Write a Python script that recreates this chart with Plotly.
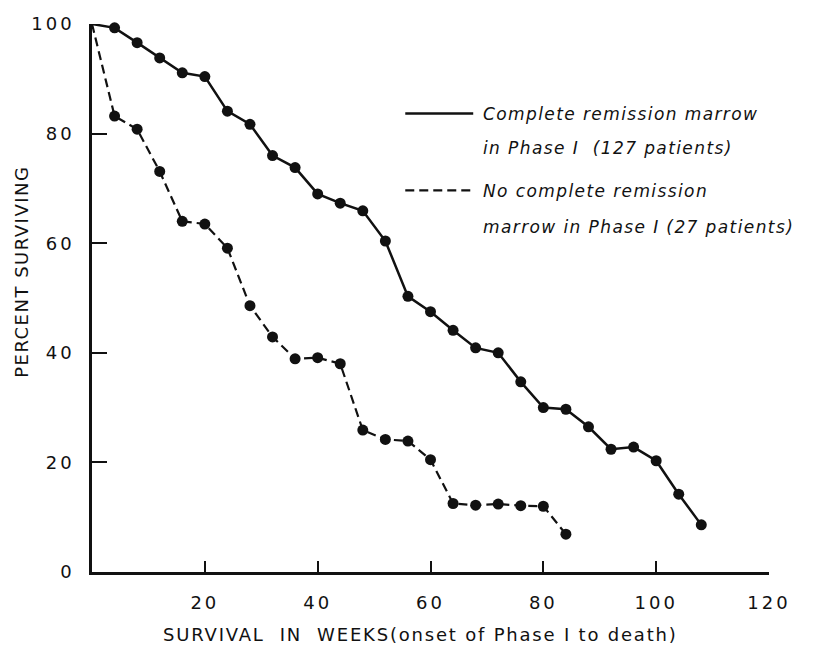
import plotly.graph_objects as go

weeks_cr = [0, 4, 8, 12, 16, 20, 24, 28, 32, 36, 40, 44, 48, 52, 56, 60, 64, 68,
            72, 76, 80, 84, 88, 92, 96, 100, 104, 108]
pct_cr = [100, 99.3, 96.6, 93.8, 91.1, 90.4, 84.1, 81.7, 76.0, 73.8, 69.0, 67.3,
          65.9, 60.4, 50.3, 47.5, 44.1, 40.9, 40.0, 34.7, 30.0, 29.7, 26.5, 22.4,
          22.8, 20.3, 14.2, 8.6]

weeks_ncr = [0, 4, 8, 12, 16, 20, 24, 28, 32, 36, 40, 44, 48, 52, 56, 60, 64, 68,
             72, 76, 80, 84]
pct_ncr = [100, 83.2, 80.8, 73.1, 64.0, 63.5, 59.1, 48.6, 42.9, 38.9, 39.1, 38.0,
           25.9, 24.2, 23.9, 20.5, 12.5, 12.2, 12.4, 12.1, 12.0, 6.9]

x_ticks = [20, 40, 60, 80, 100, 120]
y_ticks = [0, 20, 40, 60, 80, 100]

x_title = "SURVIVAL  IN  WEEKS(onset of Phase I to death)"
y_title = "PERCENT SURVIVING"
legend_cr = ["Complete remission marrow", "in Phase I  (127 patients)"]
legend_ncr = ["No complete remission", "marrow in Phase I (27 patients)"]

FONT = "DejaVu Sans"
INK = "#111111"

L, R, T, B = 91.5, 51, 23.5, 74
W, H = 820, 646
PW, PH = W - L - R, H - T - B


def px(x):
    return (x - L) / PW


def py(y):
    return (H - B - y) / PH


def spaced(s, ls):
    return '<span style="letter-spacing:%spx">%s</span>' % (ls, s)


fig = go.Figure()
fig.add_trace(go.Scatter(
    x=weeks_cr, y=pct_cr, mode="lines+markers",
    line=dict(color=INK, width=2.5),
    marker=dict(color=INK, opacity=1, line=dict(width=0),
                size=[0] + [11] * (len(weeks_cr) - 1)),
    showlegend=False, cliponaxis=False))
fig.add_trace(go.Scatter(
    x=weeks_ncr, y=pct_ncr, mode="lines+markers",
    line=dict(color=INK, width=2.2, dash="9px,5px"),
    marker=dict(color=INK, opacity=1, line=dict(width=0),
                size=[0] + [11] * (len(weeks_ncr) - 1)),
    showlegend=False, cliponaxis=False))

# legend samples
fig.add_shape(type="line", xref="paper", yref="paper",
              x0=px(405), x1=px(473), y0=py(113), y1=py(113),
              line=dict(color=INK, width=2.5))
fig.add_shape(type="line", xref="paper", yref="paper",
              x0=px(405), x1=px(473), y0=py(190), y1=py(190),
              line=dict(color=INK, width=2.2, dash="9px,5px"))

legend_rows = [(legend_cr[0], 114), (legend_cr[1], 148),
               (legend_ncr[0], 191), (legend_ncr[1], 227)]
for txt, yy in legend_rows:
    fig.add_annotation(text="<i>" + spaced(txt, 1.4) + "</i>", xref="paper", yref="paper",
                       x=px(481), y=py(yy), xanchor="left", yanchor="middle",
                       showarrow=False, font=dict(family=FONT, size=17, color=INK))

# axis titles
fig.add_annotation(text=spaced(x_title, 1.8), xref="paper", yref="paper",
                   x=px(420), y=py(635), xanchor="center", yanchor="middle",
                   showarrow=False, font=dict(family=FONT, size=18, color=INK))
fig.add_annotation(text=spaced(y_title, 1.5), xref="paper", yref="paper",
                   x=px(21), y=py(272), xanchor="center", yanchor="middle",
                   textangle=-90,
                   showarrow=False, font=dict(family=FONT, size=18, color=INK))

fig.update_xaxes(
    range=[0, 120], tickvals=x_ticks, ticktext=[spaced(str(v), 3) for v in x_ticks],
    ticks="inside", ticklen=11, tickwidth=2, tickcolor=INK,
    showline=True, linecolor=INK, linewidth=2.5, showgrid=False, zeroline=False,
    tickfont=dict(family=FONT, size=18, color=INK), ticklabelstandoff=13)
fig.update_yaxes(
    range=[0, 100], tickvals=y_ticks, ticktext=[spaced(str(v), 3) for v in y_ticks],
    ticks="inside", ticklen=15, tickwidth=2, tickcolor=INK,
    showline=True, linecolor=INK, linewidth=2.5, showgrid=False, zeroline=False,
    tickfont=dict(family=FONT, size=18, color=INK), ticklabelstandoff=11)

fig.update_layout(
    width=W, height=H, margin=dict(l=L, r=R, t=T, b=B, autoexpand=False),
    paper_bgcolor="white", plot_bgcolor="white")

fig.write_html("out.html")
